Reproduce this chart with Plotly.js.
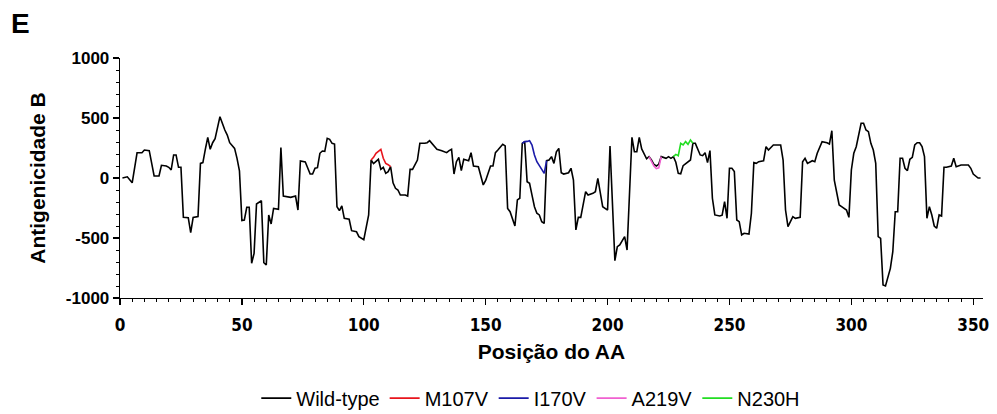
<!DOCTYPE html>
<html>
<head>
<meta charset="utf-8">
<script src="https://cdn.plot.ly/plotly-3.0.1.min.js"></script>
<style>
html,body{margin:0;padding:0;background:#fff;}
#chart{width:997px;height:414px;}
</style>
</head>
<body>
<div id="chart"></div>
<script>
// Wild-type antigenicity profile (AA position, value)
var wtPos = [1,3,5,7,9,10,12,14,16,17,19,20,21,22,23,24,25,26,28,29,30,32,33,34,35,36,37,38,39,41,43,44,45,47,48,49,50,51,52,53,54,55,56,58,59,60,61,62,63,65,66,67,70,72,73,74,76,78,79,80,81,82,83,84,85,86,87,88,89,90,91,92,94,95,97,98,100,102,103,104,106,107,108,109,110,111,112,113,114,115,117,118,119,120,122,123,125,126,127,128,130,132,134,135,136,137,138,139,140,141,143,144,145,147,148,149,150,152,153,154,155,157,158,159,160,162,163,164,165,166,167,168,169,170,171,172,173,174,175,176,177,178,179,180,181,182,184,185,186,187,188,189,191,192,194,195,196,197,198,200,201,203,204,205,207,208,210,211,212,213,214,216,217,218,219,220,221,222,224,225,226,227,228,229,230,231,233,234,235,236,238,239,240,241,242,243,244,246,247,248,249,250,251,252,253,254,255,256,258,259,260,261,262,264,265,266,268,271,272,273,274,275,276,277,279,280,281,282,284,285,286,288,290,291,292,293,294,295,296,298,299,300,301,302,304,305,306,307,308,309,310,311,312,313,314,316,317,318,319,320,321,322,323,324,325,326,327,328,329,330,331,332,333,334,335,336,337,338,339,341,342,343,345,347,348,349,350,352,353];
var wtVal = [0,10,-40,210,210,233,228,17,17,106,100,89,67,192,192,89,89,-328,-331,-456,-328,-322,122,128,239,339,239,294,328,511,400,358,294,247,164,60,-355,-350,-244,-244,-711,-628,-217,-189,-706,-725,-308,-383,-253,-260,253,-150,-161,-150,-267,142,133,33,33,81,86,206,225,222,331,322,289,283,-239,-272,-233,-336,-344,-439,-447,-489,-514,-308,150,120,156,72,89,39,53,94,-40,-86,-100,-142,-142,-150,72,72,150,289,289,294,311,289,239,228,211,228,239,33,136,172,61,156,144,211,100,94,25,-58,-20,100,100,211,233,281,267,-253,-281,-400,-183,-169,289,303,-31,-44,-142,-239,-294,-308,-364,-378,144,150,178,122,219,247,44,33,44,81,-17,-433,-328,-328,-114,-142,-128,-114,-3,-106,-239,-267,267,-689,-572,-558,-489,-600,339,219,219,339,242,160,178,150,114,100,114,178,164,178,164,178,131,39,35,103,131,150,289,289,192,186,211,128,228,-169,-308,-317,-310,-197,-336,81,81,53,-350,-364,-475,-461,-467,-294,128,122,136,144,261,233,275,275,150,-267,-406,-356,-322,-336,-328,136,164,122,144,136,206,303,294,283,394,-17,-128,-225,-239,-267,-328,67,206,261,456,456,400,386,289,233,122,-489,-503,-892,-900,-753,-614,-281,-281,164,164,81,61,156,172,275,294,294,261,178,-336,-239,-308,-400,-419,-308,-317,89,89,100,164,94,108,108,108,81,33,0,0];

// Mutant profiles (only where they differ from wild-type)
var m107vPos = [103,104,105,107,108,109,110,111];
var m107vVal = [150,172,206,239,164,122,111,94];
var i170vPos = [165,166,167,168,169,170,171,172,173,174,175];
var i170vVal = [289,303,305,311,275,192,136,108,72,39,144];
var a219vPos = [217,218,219,220,221,222];
var a219vVal = [178,140,100,78,85,178];
var n230hPos = [227,228,229,230,231,232,233,234,235];
var n230hVal = [178,197,186,289,275,303,280,317,289];

var seriesNames = ['Wild-type','M107V','I170V','A219V','N230H'];
var seriesColors = ['#000000','#e8141c','#1a1aa8','#f060d0','#22dd22'];

// Axis tick labels (hyphen-minus as in the original)
var yTickVals = [-1000, -500, 0, 500, 1000];
var yTickText = ['-1000', '-500', '0', '500', '1000'];
var xTickVals = [0, 50, 100, 150, 200, 250, 300, 350];
var xTickText = ['0', '50', '100', '150', '200', '250', '300', '350'];

var xs = [wtPos, m107vPos, i170vPos, a219vPos, n230hPos];
var ys = [wtVal, m107vVal, i170vVal, a219vVal, n230hVal];

var traces = [];
for (var i = 0; i < seriesNames.length; i++) {
  traces.push({
    type: 'scatter', mode: 'lines',
    x: xs[i], y: ys[i], name: seriesNames[i],
    line: {color: seriesColors[i], width: 1.6}
  });
}

var ARIAL = 'Arial, "Liberation Sans", sans-serif';
var NARROW = '"Liberation Sans Narrow", "Arial Narrow", "DejaVu Sans Condensed", Arial, sans-serif';
var titleFont = {family: ARIAL, size: 21, color: '#000', weight: 'bold'};

var layout = {
  width: 997, height: 414,
  margin: {l: 120, r: 14, t: 58, b: 116, autoexpand: false},
  paper_bgcolor: '#fff', plot_bgcolor: '#fff',
  showlegend: true,
  legend: {
    orientation: 'h', x: 0.476, xanchor: 'center', y: -0.417, yanchor: 'middle',
    font: {family: ARIAL, size: 20, color: '#000'},
    itemwidth: 30, tracegroupgap: 0
  },
  xaxis: {
    range: [0, 354], showgrid: false, zeroline: false,
    showline: true, linecolor: '#000', linewidth: 1.3,
    ticks: 'outside', ticklen: 6, tickwidth: 1.3, tickcolor: '#000',
    tickmode: 'array', tickvals: xTickVals, ticktext: xTickText, ticklabelstandoff: 5,
    minor: {dtick: 5, tick0: 0, ticks: 'outside', ticklen: 3, tickwidth: 1, tickcolor: '#000', showgrid: false},
    tickfont: {family: NARROW, size: 17, color: '#000', weight: 'bold'},
    title: {text: 'Posição do AA', font: titleFont, standoff: 10}
  },
  yaxis: {
    range: [-1000, 1000], showgrid: false, zeroline: false,
    showline: true, linecolor: '#000', linewidth: 1.3,
    ticks: 'outside', ticklen: 6, tickwidth: 1.3, tickcolor: '#000',
    tickmode: 'array', tickvals: yTickVals, ticktext: yTickText,
    minor: {dtick: 100, tick0: 0, ticks: 'outside', ticklen: 3, tickwidth: 1, tickcolor: '#000', showgrid: false},
    tickfont: {family: ARIAL, size: 17, color: '#000', weight: 'bold'},
    title: {text: 'Antigenicidade B', font: titleFont, standoff: 14}
  },
  annotations: [{
    text: 'E', xref: 'paper', yref: 'paper', x: -0.129, y: 1.145,
    xanchor: 'left', yanchor: 'middle', showarrow: false,
    font: {family: ARIAL, size: 28, color: '#000', weight: 'bold'}
  }]
};

Plotly.newPlot('chart', traces, layout, {displayModeBar: false, staticPlot: true});
</script>
</body>
</html>
